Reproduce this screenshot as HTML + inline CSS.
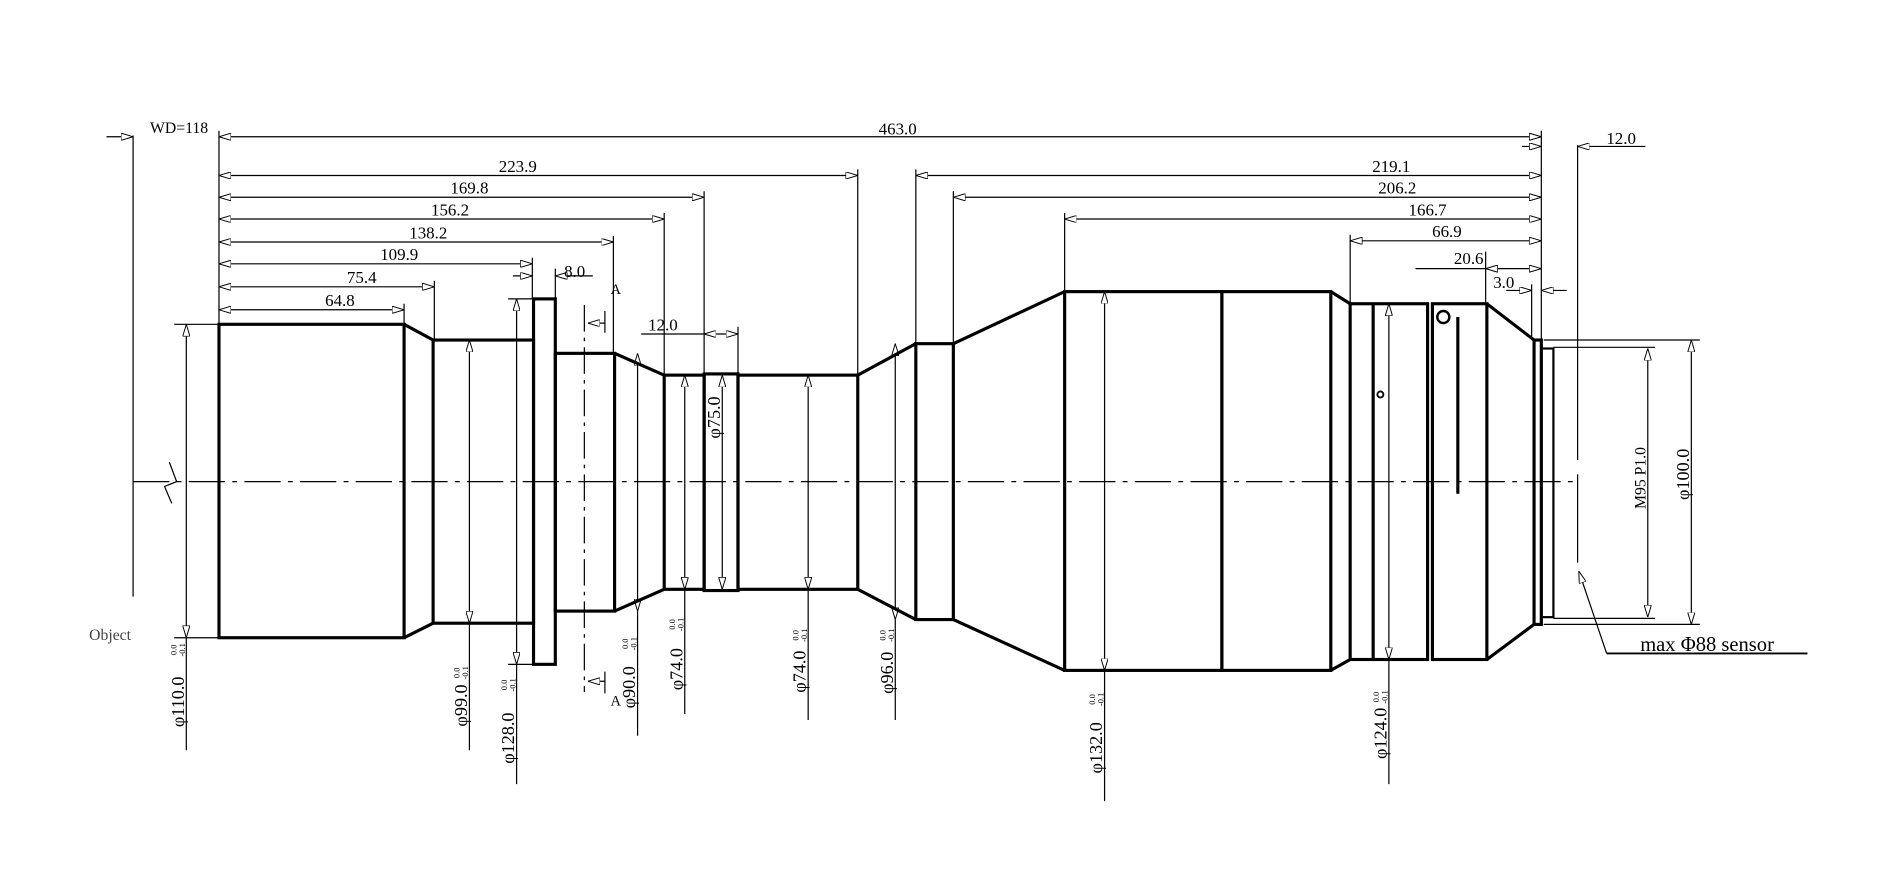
<!DOCTYPE html>
<html><head><meta charset="utf-8"><style>html,body{margin:0;padding:0;background:#fff}svg{display:block}</style></head><body>
<svg width="1897" height="887" viewBox="0 0 1568 733" preserveAspectRatio="none" xmlns="http://www.w3.org/2000/svg" font-family="Liberation Serif, serif" font-size="14">
<defs>
<marker id="a" viewBox="0 0 10 6" refX="10" refY="3" markerWidth="10" markerHeight="6" markerUnits="userSpaceOnUse" orient="auto-start-reverse"><path d="M0,0L10,3L0,6z" fill="#fff" stroke="#000" stroke-width="0.8"/></marker>
</defs>
<g stroke="#000" stroke-width="1" fill="none">
<!-- centerline -->
<line x1="110" y1="398" x2="1305" y2="398" stroke-dasharray="30,6,4,6"/>
<path d="M140,382 L146,398 L136,402 L142,416"/>
<!-- extension verticals -->
<line x1="110" y1="112" x2="110" y2="493"/>
<line x1="181" y1="108" x2="181" y2="268"/>
<line x1="1274" y1="108" x2="1274" y2="280"/>
<line x1="1304" y1="120" x2="1304" y2="380"/><line x1="1304" y1="392" x2="1304" y2="465"/>
<line x1="709" y1="140" x2="709" y2="310"/>
<line x1="582" y1="158" x2="582" y2="310"/>
<line x1="549" y1="176" x2="549" y2="310"/>
<line x1="507" y1="195" x2="507" y2="292"/>
<line x1="440" y1="213" x2="440" y2="247"/>
<line x1="459" y1="222" x2="459" y2="247"/>
<line x1="359" y1="232" x2="359" y2="281"/>
<line x1="334" y1="251" x2="334" y2="268"/>
<line x1="757" y1="140" x2="757" y2="284"/>
<line x1="788" y1="158" x2="788" y2="284"/>
<line x1="880" y1="176" x2="880" y2="241"/>
<line x1="1116" y1="194" x2="1116" y2="251"/>
<line x1="1228" y1="208" x2="1228" y2="251"/>
<line x1="1266" y1="235" x2="1266" y2="281"/>
<line x1="610" y1="270" x2="610" y2="309"/>
<!-- horizontal dims -->
<line x1="88" y1="113" x2="110" y2="113" marker-end="url(#a)"/>
<line x1="181" y1="113" x2="1274" y2="113" marker-start="url(#a)" marker-end="url(#a)"/>
<line x1="181" y1="145" x2="709" y2="145" marker-start="url(#a)" marker-end="url(#a)"/>
<line x1="181" y1="163" x2="582" y2="163" marker-start="url(#a)" marker-end="url(#a)"/>
<line x1="181" y1="181" x2="549" y2="181" marker-start="url(#a)" marker-end="url(#a)"/>
<line x1="181" y1="200" x2="507" y2="200" marker-start="url(#a)" marker-end="url(#a)"/>
<line x1="181" y1="218" x2="440" y2="218" marker-start="url(#a)" marker-end="url(#a)"/>
<line x1="181" y1="237" x2="359" y2="237" marker-start="url(#a)" marker-end="url(#a)"/>
<line x1="181" y1="256" x2="334" y2="256" marker-start="url(#a)" marker-end="url(#a)"/>
<line x1="757" y1="145" x2="1274" y2="145" marker-start="url(#a)" marker-end="url(#a)"/>
<line x1="788" y1="163" x2="1274" y2="163" marker-start="url(#a)" marker-end="url(#a)"/>
<line x1="880" y1="181" x2="1274" y2="181" marker-start="url(#a)" marker-end="url(#a)"/>
<line x1="1116" y1="199" x2="1274" y2="199" marker-start="url(#a)" marker-end="url(#a)"/>
<line x1="1170" y1="222" x2="1228" y2="222"/><line x1="1228" y1="222" x2="1274" y2="222" marker-start="url(#a)" marker-end="url(#a)"/>
<line x1="1245" y1="240" x2="1266" y2="240" marker-end="url(#a)"/><line x1="1295" y1="240" x2="1274" y2="240" marker-end="url(#a)"/>
<line x1="1258" y1="121" x2="1274" y2="121" marker-end="url(#a)"/><line x1="1360" y1="121" x2="1304" y2="121" marker-end="url(#a)"/>
<line x1="424" y1="228" x2="440" y2="228" marker-end="url(#a)"/><line x1="490" y1="228" x2="459" y2="228" marker-end="url(#a)"/>
<line x1="530" y1="276" x2="582" y2="276"/><line x1="582" y1="276" x2="610" y2="276" marker-start="url(#a)" marker-end="url(#a)"/>
<!-- section A -->
<line x1="483" y1="252" x2="483" y2="572" stroke-dasharray="22,5,3,5"/>
<line x1="500" y1="267" x2="486" y2="267" marker-end="url(#a)"/><line x1="500" y1="257" x2="500" y2="275"/>
<line x1="500" y1="563" x2="486" y2="563" marker-end="url(#a)"/><line x1="500" y1="555" x2="500" y2="573"/>
<!-- diameter dims -->
<line x1="154" y1="268" x2="154" y2="527" marker-start="url(#a)" marker-end="url(#a)"/><line x1="154" y1="527" x2="154" y2="620"/>
<line x1="144" y1="268" x2="181" y2="268"/><line x1="144" y1="527" x2="181" y2="527"/>
<line x1="388" y1="281" x2="388" y2="515" marker-start="url(#a)" marker-end="url(#a)"/><line x1="388" y1="515" x2="388" y2="620"/>
<line x1="427" y1="247" x2="427" y2="549" marker-start="url(#a)" marker-end="url(#a)"/><line x1="427" y1="549" x2="427" y2="648"/>
<line x1="420" y1="247" x2="441" y2="247"/><line x1="420" y1="549" x2="441" y2="549"/>
<line x1="527" y1="292" x2="527" y2="505" marker-start="url(#a)" marker-end="url(#a)"/><line x1="527" y1="505" x2="527" y2="608"/>
<line x1="566" y1="310" x2="566" y2="487" marker-start="url(#a)" marker-end="url(#a)"/><line x1="566" y1="487" x2="566" y2="590"/>
<line x1="597" y1="310" x2="597" y2="487" marker-start="url(#a)" marker-end="url(#a)"/>
<line x1="668" y1="310" x2="668" y2="487" marker-start="url(#a)" marker-end="url(#a)"/><line x1="668" y1="487" x2="668" y2="595"/>
<line x1="740" y1="284" x2="740" y2="512" marker-start="url(#a)" marker-end="url(#a)"/><line x1="740" y1="512" x2="740" y2="595"/>
<line x1="913" y1="241" x2="913" y2="554" marker-start="url(#a)" marker-end="url(#a)"/><line x1="913" y1="554" x2="913" y2="662"/>
<line x1="1148" y1="251" x2="1148" y2="545" marker-start="url(#a)" marker-end="url(#a)"/><line x1="1148" y1="545" x2="1148" y2="648"/>
<line x1="1362" y1="288" x2="1362" y2="510" marker-start="url(#a)" marker-end="url(#a)"/>
<line x1="1284" y1="287" x2="1368" y2="287"/><line x1="1284" y1="511" x2="1368" y2="511"/>
<line x1="1398" y1="281" x2="1398" y2="516" marker-start="url(#a)" marker-end="url(#a)"/>
<line x1="1276" y1="281" x2="1405" y2="281"/><line x1="1276" y1="516" x2="1405" y2="516"/>
<!-- sensor leader -->
<line x1="1328" y1="540" x2="1305" y2="472" marker-end="url(#a)"/>
<line x1="1328" y1="540" x2="1494" y2="540" stroke-width="1.5"/>
</g>
<!-- body -->
<g stroke="#000" stroke-width="2.6" fill="none" stroke-linejoin="miter">
<rect x="181" y="268" width="153" height="259"/>
<path d="M334,268 L358,281 M334,527 L358,515"/>
<rect x="358" y="281" width="83" height="234"/>
<rect x="441" y="247" width="18" height="302"/>
<rect x="459" y="292" width="49" height="213"/>
<path d="M508,292 L549,310 M508,505 L549,487"/>
<rect x="549" y="310" width="33" height="177"/>
<rect x="582" y="309" width="28" height="179"/>
<rect x="610" y="310" width="99" height="177"/>
<path d="M709,310 L757,284 M709,487 L757,512"/>
<rect x="757" y="284" width="31" height="228"/>
<path d="M788,284 L880,241 M788,512 L880,554"/>
<rect x="880" y="241" width="130" height="313"/>
<rect x="1010" y="241" width="90" height="313"/>
<path d="M1100,241 L1116,251 M1100,554 L1116,545"/>
<rect x="1116" y="251" width="64" height="294"/>
<line x1="1135" y1="251" x2="1135" y2="545"/>
<rect x="1184" y="251" width="45" height="294"/>
<line x1="1205" y1="262" x2="1205" y2="408"/>
<path d="M1229,251 L1268,281 M1229,545 L1268,516"/>
<rect x="1268" y="281" width="6" height="235"/>
<rect x="1274" y="288" width="10" height="222" stroke-width="1.8"/>
<circle cx="1193" cy="262" r="5" stroke-width="2"/>
<circle cx="1141" cy="326" r="2.5" stroke-width="1.5"/>
</g>
<!-- labels -->
<g fill="#000" text-anchor="middle">
<text x="148" y="110" font-size="13">WD=118</text>
<text x="742" y="111">463.0</text>
<text x="428" y="142">223.9</text>
<text x="388" y="160">169.8</text>
<text x="372" y="178">156.2</text>
<text x="354" y="197">138.2</text>
<text x="330" y="215">109.9</text>
<text x="299" y="234">75.4</text>
<text x="281" y="253">64.8</text>
<text x="475" y="229">8.0</text>
<text x="548" y="273">12.0</text>
<text x="509" y="243" font-size="12">A</text>
<text x="509" y="583" font-size="12">A</text>
<text x="1150" y="142">219.1</text>
<text x="1155" y="160">206.2</text>
<text x="1180" y="178">166.7</text>
<text x="1196" y="196">66.9</text>
<text x="1214" y="218">20.6</text>
<text x="1243" y="238">3.0</text>
<text x="1340" y="119">12.0</text>
<text x="91" y="529" font-size="13" fill="#444">Object</text>
<text x="1411" y="538" font-size="17">max Φ88 sensor</text>
<g font-size="15">
<text transform="translate(152,580) rotate(-90)">φ110.0</text>
<text transform="translate(386,583) rotate(-90)">φ99.0</text>
<text transform="translate(425,610) rotate(-90)">φ128.0</text>
<text transform="translate(525,568) rotate(-90)">φ90.0</text>
<text transform="translate(564,553) rotate(-90)">φ74.0</text>
<text transform="translate(595,345) rotate(-90)">φ75.0</text>
<text transform="translate(666,555) rotate(-90)">φ74.0</text>
<text transform="translate(738,556) rotate(-90)">φ96.0</text>
<text transform="translate(911,618) rotate(-90)">φ132.0</text>
<text transform="translate(1146,606) rotate(-90)">φ124.0</text>
<text transform="translate(1360,395) rotate(-90)" font-size="13">M95 P1.0</text>
<text transform="translate(1396,392) rotate(-90)">φ100.0</text>
</g>
<g font-size="7">
<text transform="translate(146,537) rotate(-90)">0.0</text><text transform="translate(153,537) rotate(-90)">-0.1</text>
<text transform="translate(380,556) rotate(-90)">0.0</text><text transform="translate(387,556) rotate(-90)">-0.1</text>
<text transform="translate(419,566) rotate(-90)">0.0</text><text transform="translate(426,566) rotate(-90)">-0.1</text>
<text transform="translate(519,532) rotate(-90)">0.0</text><text transform="translate(526,532) rotate(-90)">-0.1</text>
<text transform="translate(558,516) rotate(-90)">0.0</text><text transform="translate(565,516) rotate(-90)">-0.1</text>
<text transform="translate(660,525) rotate(-90)">0.0</text><text transform="translate(667,525) rotate(-90)">-0.1</text>
<text transform="translate(732,525) rotate(-90)">0.0</text><text transform="translate(739,525) rotate(-90)">-0.1</text>
<text transform="translate(905,578) rotate(-90)">0.0</text><text transform="translate(912,578) rotate(-90)">-0.1</text>
<text transform="translate(1140,576) rotate(-90)">0.0</text><text transform="translate(1147,576) rotate(-90)">-0.1</text>
</g>
</g>
</svg>
</body></html>
